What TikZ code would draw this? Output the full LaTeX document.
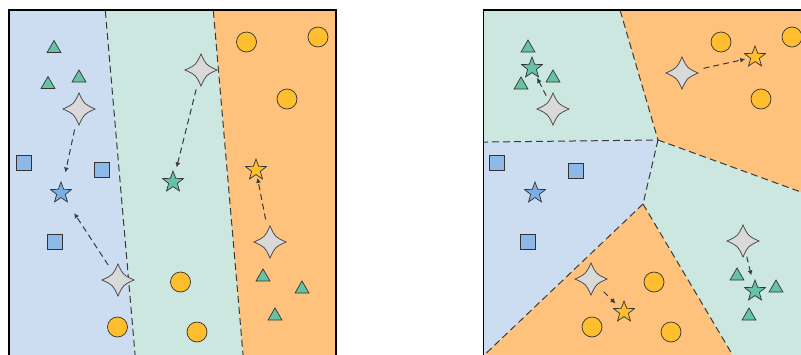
\documentclass[tikz,border=0pt]{standalone}
\usetikzlibrary{shapes.geometric,arrows.meta}
\definecolor{regblue}{HTML}{CCDCF1}
\definecolor{reggreen}{HTML}{CCE7DF}
\definecolor{regorange}{HTML}{FFC27C}
\definecolor{mgreen}{HTML}{66C2A5}
\definecolor{myellow}{HTML}{FFBE2E}
\definecolor{mblue}{HTML}{8DB8E8}
\definecolor{sblue}{HTML}{7BAEE3}
\definecolor{mgray}{HTML}{D9D9D9}
\definecolor{edgec}{HTML}{333333}
\definecolor{dashc}{HTML}{3A3A3A}
\tikzset{
  tri/.style={regular polygon, regular polygon sides=3, minimum size=16pt, inner sep=0pt, fill=mgreen, draw=edgec, line width=0.7pt},
  dot/.style={circle, minimum size=20pt, inner sep=0pt, fill=myellow, draw=edgec, line width=0.7pt},
  sq/.style={rectangle, minimum size=15pt, inner sep=0pt, fill=mblue, draw=edgec, line width=0.7pt},
  cstar/.style={star, star points=5, star point ratio=2.4, minimum size=22pt, inner sep=0pt, draw=edgec, line width=0.7pt},
  bstar/.style={cstar, fill=sblue},
  gnstar/.style={cstar, fill=mgreen},
  ostar/.style={cstar, fill=myellow},
  gshape/.style={fill=mgray, draw=edgec!90, line width=0.75pt},
  bound/.style={dash pattern=on 7pt off 4pt, line width=1pt, draw=dashc},
  arr/.style={-{Latex[length=5pt,width=5pt]}, dash pattern=on 6pt off 4pt, line width=1pt, draw=dashc},
  panel/.style={draw=black, line width=1.5pt}
}
\newcommand\gstarnode[2]{%
  \node[circle, minimum size=30pt, inner sep=0pt] (#1) at (#2) {};
  \begin{scope}[shift={(#2)}]
    \path[gshape] (16,0) .. controls (5,5) .. (0,16) .. controls (-5,5) .. (-16,0)
      .. controls (-5,-5) .. (0,-16) .. controls (5,-5) .. cycle;
  \end{scope}}
\begin{document}
\begin{tikzpicture}[x=1pt,y=-1pt]
\useasboundingbox (0,0) rectangle (801,354);
% ---------- left panel ----------
\begin{scope}
  \clip (9,10) rectangle (336,360);
  \fill[regblue] (0,0) -- (104.4,0) -- (135.5,360) -- (0,360) -- cycle;
  \fill[reggreen] (104.4,0) -- (212.4,0) -- (243.5,360) -- (135.5,360) -- cycle;
  \fill[regorange] (212.4,0) -- (340,0) -- (340,360) -- (243.5,360) -- cycle;
  \draw[bound] (104.4,0) -- (135.5,360);
  \draw[bound] (212.4,0) -- (243.5,360);
\end{scope}
\draw[panel] (9,360) -- (9,10) -- (336,10) -- (336,360);
% markers
\node[tri] (lt1) at (54,48.5) {};
\node[tri] (lt2) at (48,84.5) {};
\node[tri] (lt3) at (79,78) {};
\node[sq] (lq1) at (24,163) {};
\node[sq] (lq2) at (101.5,170) {};
\node[sq] (lq3) at (54.5,242) {};
\node[bstar] (ls1) at (61,193) {};
\node[dot] (lc1) at (117.5,327) {};
\node[dot] (lc2) at (180.5,282) {};
\node[dot] (lc3) at (197,332) {};
\node[gnstar] (ls2) at (173,182) {};
\node[dot] (lc4) at (246.5,42) {};
\node[dot] (lc5) at (318,37) {};
\node[dot] (lc6) at (287,99) {};
\node[ostar] (ls3) at (256,170) {};
\node[tri] (lt4) at (263,277) {};
\node[tri] (lt5) at (302,289) {};
\node[tri] (lt6) at (275,316) {};
\gstarnode{g1}{79,109}
\gstarnode{g2}{118,280}
\gstarnode{g3}{201,70}
\gstarnode{g4}{270,242}
\draw[arr, shorten <=21pt, shorten >=21pt] (g1.center) -- (ls1.center);
\draw[arr, shorten <=18pt, shorten >=24pt] (g2.center) -- (ls1.center);
\draw[arr, shorten <=20pt, shorten >=15pt] (g3.center) -- (ls2.center);
\draw[arr, shorten <=23pt, shorten >=8pt] (g4.center) -- (ls3.center);
% ---------- right panel ----------
\begin{scope}
  \clip (483.5,10) rectangle (820,360);
  \fill[reggreen] (470,0) -- (617.1,0) -- (658,140) -- (470,142.2) -- cycle;
  \fill[regorange] (617.1,0) -- (830,0) -- (830,202.6) -- (658,140) -- cycle;
  \fill[regblue] (470,142.2) -- (658,140) -- (643,204) -- (479,360) -- (470,360) -- cycle;
  \fill[regorange] (643,204) -- (479,360) -- (735.6,360) -- cycle;
  \fill[reggreen] (658,140) -- (830,202.6) -- (830,360) -- (735.6,360) -- (643,204) -- cycle;
  \draw[bound] (617.1,0) -- (658,140);
  \draw[bound] (470,142.2) -- (658,140);
  \draw[bound] (658,140) -- (830,202.6);
  \draw[bound] (658,140) -- (643,204);
  \draw[bound] (643,204) -- (479,360);
  \draw[bound] (643,204) -- (735.6,360);
\end{scope}
\draw[panel] (483.5,360) -- (483.5,10) -- (810,10);
% markers
\node[tri] (rt1) at (528,48) {};
\node[tri] (rt2) at (521,85) {};
\node[tri] (rt3) at (553,78) {};
\node[gnstar] (rs1) at (532,68) {};
\node[dot] (rc1) at (721,42) {};
\node[dot] (rc2) at (792,37) {};
\node[dot] (rc3) at (761,99) {};
\node[ostar] (rs2) at (755,57) {};
\node[sq] (rq1) at (497,163) {};
\node[sq] (rq2) at (576,171) {};
\node[sq] (rq3) at (528,242) {};
\node[bstar] (rs3) at (535,193) {};
\node[dot] (rc4) at (654,282) {};
\node[dot] (rc5) at (592,327) {};
\node[dot] (rc6) at (671,332) {};
\node[ostar] (rs4) at (624,312) {};
\node[tri] (rt4) at (737,276) {};
\node[tri] (rt5) at (776,288) {};
\node[tri] (rt6) at (749,316) {};
\node[gnstar] (rs5) at (755,291) {};
\gstarnode{g5}{553,109}
\gstarnode{g6}{682,73}
\gstarnode{g7}{591,279}
\gstarnode{g8}{743,241}
\draw[arr, shorten <=15pt, shorten >=11pt] (g5.center) -- (rs1.center);
\draw[arr, shorten <=22pt, shorten >=10pt] (g6.center) -- (rs2.center);
\draw[arr, shorten <=18pt, shorten >=12pt] (g7.center) -- (rs4.center);
\draw[arr, shorten <=16pt, shorten >=16pt] (g8.center) -- (rs5.center);
\end{tikzpicture}
\end{document}
